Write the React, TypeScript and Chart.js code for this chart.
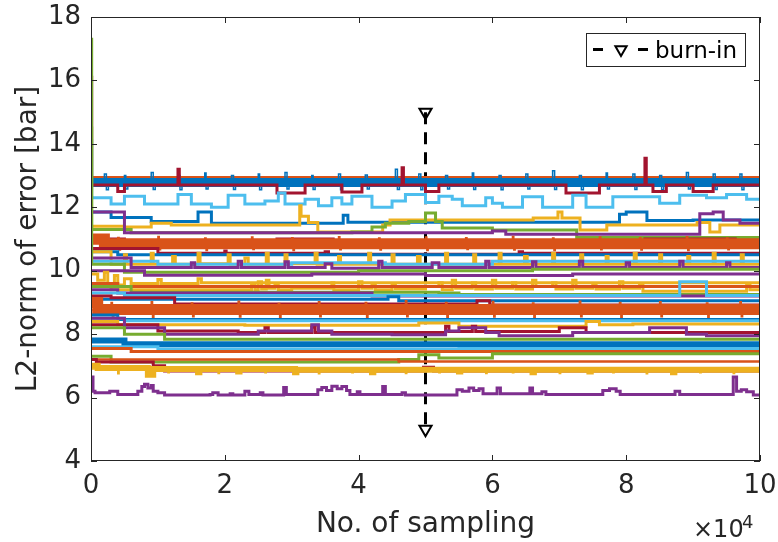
import { useEffect, useRef } from 'react';
import { Chart, registerables } from 'chart.js';
Chart.register(...registerables);

// MATLAB default colour order
const B = '#0072BD', O = '#D95319', Y = '#EDB120', P = '#7E2F8E', G = '#77AC30', C = '#4DBEEE', R = '#A2142F';

// x in units of 10^4 samples, y = L2-norm of error [bar]; pairs [x, y, x, y, ...] (value changes at x)
const p61 = [0,6.65, 0.03,6.2, 0.06,6.15, 0.28,6.2, 0.4,6.1, 0.7,6.2, 0.76,6.35, 0.8,6.42, 0.85,6.3, 0.9,6.38, 0.93,6.2, 1.0,6.15, 1.1,6.08, 1.78,6.1, 1.82,6.15, 1.9,6.08, 2.08,6.12, 2.12,6.08, 2.3,6.2, 2.36,6.1, 2.53,6.15, 2.57,6.08, 2.88,6.32, 2.92,6.1, 3.39,6.25, 3.45,6.32, 3.52,6.22, 3.6,6.36, 3.68,6.28, 3.75,6.35, 3.82,6.22, 3.87,6.1, 3.98,6.18, 4.02,6.1, 4.36,6.35, 4.4,6.1, 4.65,6.15, 4.7,6.08, 5.41,6.08, 5.47,6.25, 5.55,6.2, 5.65,6.3, 5.72,6.22, 5.8,6.28, 5.86,6.12, 6.07,6.3, 6.12,6.12, 6.56,6.3, 6.6,6.12, 6.74,6.18, 6.8,6.1, 7.65,6.22, 7.75,6.28, 7.85,6.2, 7.91,6.1, 8.73,6.2, 8.8,6.1, 9.6,6.65, 9.65,6.2, 9.72,6.25, 9.8,6.18, 9.9,6.08, 10,6.08];
const y69 = [0,7.0, 0.1,6.93, 0.85,6.72, 0.93,6.9, 1.6,6.8, 1.62,6.9, 2.2,6.82, 2.22,6.9, 3.05,6.8, 3.07,6.88, 4.2,6.8, 4.22,6.88, 5.5,6.82, 5.52,6.88, 6.6,6.8, 6.62,6.88, 7.45,6.82, 7.47,6.88, 8.7,6.8, 8.72,6.88, 10,6.88];
const y69s = [0,6.9, 0.4,6.75, 0.42,6.9, 1.15,6.78, 1.17,6.9, 1.9,6.76, 1.92,6.9, 2.6,6.78, 2.62,6.9, 3.4,6.75, 3.42,6.9, 3.9,6.78, 3.92,6.9, 4.7,6.76, 4.72,6.9, 5.2,6.78, 5.22,6.9, 5.9,6.76, 5.92,6.9, 6.3,6.78, 6.32,6.9, 7.0,6.76, 7.02,6.9, 7.8,6.78, 7.82,6.9, 8.3,6.75, 8.32,6.9, 9.1,6.78, 9.12,6.9, 9.6,6.76, 9.62,6.9, 10,6.9];
const r68 = [0,7.2, 0.08,7.12, 0.93,7.0, 1.1,6.84, 4.97,6.96, 5.12,6.84, 10,6.84];
const o714 = [0,7.2, 4.6,7.14, 10,7.14];
const g72 = [0,7.3, 0.3,7.12, 4.6,7.2, 4.9,7.35, 5.2,7.25, 6.0,7.38, 10,7.38];
const o745 = [0,7.55, 0.6,7.45, 10,7.45];
const c753 = [0,7.6, 1.0,7.53, 5.5,7.55, 10,7.55];
const b766 = [0,7.8, 0.5,7.68, 10,7.66];
const g78 = [0,8.2, 0.5,8.0, 1.1,7.84, 10,7.84];
const p795 = [0,8.5, 0.5,8.2, 1.1,8.0, 2.3,8.0, 2.5,8.1, 3.3,8.3, 3.4,8.1, 3.6,8.0, 4.5,7.98, 5.3,8.1, 5.5,8.2, 5.9,8.05, 6.1,7.95, 7.2,8.05, 8.35,8.2, 8.9,8.0, 9.2,7.95, 10,7.95];
const r81 = [0,8.3, 1.0,8.1, 2.2,8.05, 2.6,8.2, 2.65,8.05, 3.3,8.22, 3.35,8.05, 5.2,8.05, 5.3,8.25, 5.35,8.08, 5.7,8.25, 5.75,8.08, 7.0,8.2, 7.4,8.05, 10,8.0];
const y83 = [0,8.4, 0.4,8.3, 2.3,8.28, 4.9,8.35, 5.5,8.25, 7.4,8.4, 7.6,8.3, 8.1,8.32, 10,8.3];
const c84 = [0,8.5, 0.5,8.42, 10,8.4];
const b845 = [0,8.6, 0.4,8.46, 10,8.45];
const o876 = [0,9.0, 0.1,8.78, 10,8.76];
const o876s = [0,8.76, 0.3,9.0, 0.32,8.55, 0.34,8.76, 0.9,9.02, 0.92,8.52, 0.94,8.76, 1.5,8.98, 1.52,8.55, 1.54,8.76, 2.2,9.04, 2.22,8.54, 2.24,8.76, 2.8,8.97, 2.82,8.5, 2.84,8.76, 3.4,9.02, 3.42,8.55, 3.44,8.76, 4.1,9.0, 4.12,8.52, 4.14,8.76, 4.7,9.05, 4.72,8.55, 4.74,8.76, 5.3,9.0, 5.32,8.52, 5.34,8.76, 6.0,9.03, 6.02,8.54, 6.04,8.76, 6.6,8.98, 6.62,8.5, 6.64,8.76, 7.3,9.04, 7.32,8.55, 7.34,8.76, 7.9,9.0, 7.92,8.52, 7.94,8.76, 8.5,9.02, 8.52,8.55, 8.54,8.76, 9.2,8.98, 9.22,8.52, 9.24,8.76, 9.7,9.02, 9.72,8.55, 9.74,8.76, 10,8.76];
const r90 = [0,9.2, 0.3,9.15, 1.25,8.95, 5.77,9.05, 5.96,8.92, 10,8.9];
const b91 = [0,9.1, 4.44,9.18, 4.6,9.05, 10,9.05];
const c92 = [0,9.3, 0.5,9.22, 8.8,9.65, 9.2,9.22, 10,9.22];
const p93 = [0,9.4, 0.4,9.3, 4.2,9.2, 10,9.2];
const g93 = [0,9.5, 0.6,9.32, 5.2,9.3, 5.5,9.25, 10,9.2];
const o95 = [0,9.6, 0.4,9.5, 10,9.5];
const y94 = [0,9.6, 0.3,9.4, 2.4,9.6, 2.45,9.4, 2.5,9.65, 2.55,9.42, 2.62,9.7, 2.66,9.45, 2.75,9.55, 2.8,9.4, 3.0,9.45, 3.6,9.62, 3.63,9.4, 4.0,9.65, 4.05,9.45, 4.2,9.6, 4.25,9.4, 4.5,9.55, 4.55,9.42, 5.0,9.5, 5.2,9.62, 5.25,9.4, 5.4,9.7, 5.45,9.45, 5.7,9.62, 5.75,9.42, 6.0,9.7, 6.05,9.45, 6.3,9.62, 6.35,9.42, 6.6,9.7, 6.65,9.5, 6.9,9.62, 6.95,9.42, 7.2,9.7, 7.25,9.45, 7.5,9.6, 7.55,9.42, 7.9,9.65, 7.95,9.45, 8.2,9.55, 8.25,9.35, 9.8,9.55, 9.85,9.4, 10,9.4];
const y97 = [0,9.9, 0.1,9.7, 0.2,9.95, 0.25,9.6, 0.35,9.85, 0.4,9.55, 0.5,9.75, 0.6,9.6, 1.0,9.72, 1.05,9.6, 1.6,9.75, 1.65,9.62, 2.3,9.62, 10,9.62];
const p985 = [0,10.0, 0.8,9.86, 3.3,9.9, 5.0,9.85, 7.2,9.9, 10,9.9];
const g995 = [0,14.5, 0.01,10.2, 0.5,9.95, 4.0,10.0, 6.6,10.05, 10,10.05];
const p101 = [0,10.4, 0.6,10.1, 1.5,10.25, 1.55,10.1, 2.2,10.3, 2.25,10.1, 2.9,10.28, 2.95,10.1, 3.5,10.22, 3.6,10.08, 4.3,10.3, 4.35,10.1, 5.1,10.25, 5.2,10.1, 5.9,10.3, 5.95,10.1, 6.6,10.28, 6.65,10.1, 7.3,10.3, 7.35,10.1, 8.0,10.25, 8.05,10.1, 8.8,10.3, 8.85,10.1, 9.5,10.25, 9.55,10.1, 10,10.1];
const c102 = [0,10.3, 1.0,10.2, 3.0,10.25, 4.4,10.2, 6.0,10.3, 10,10.3];
const y102 = [0,10.6, 0.3,10.2, 0.5,10.5, 0.53,10.2, 0.9,10.55, 0.93,10.2, 1.22,10.45, 1.26,10.2, 1.6,10.55, 1.63,10.22, 2.05,10.5, 2.08,10.2, 2.3,10.4, 2.35,10.2, 2.62,10.55, 2.65,10.2, 2.9,10.5, 2.93,10.22, 3.35,10.55, 3.38,10.2, 3.7,10.45, 3.73,10.2, 4.15,10.55, 4.18,10.2, 4.5,10.5, 4.53,10.2, 4.88,10.45, 4.92,10.2, 5.3,10.55, 5.33,10.2, 5.72,10.5, 5.75,10.2, 6.1,10.55, 6.13,10.2, 6.48,10.45, 6.52,10.2, 6.9,10.55, 6.93,10.2, 7.32,10.5, 7.35,10.2, 7.7,10.45, 7.73,10.2, 8.12,10.55, 8.15,10.2, 8.5,10.5, 8.53,10.2, 8.92,10.45, 8.95,10.2, 9.3,10.55, 9.33,10.2, 9.72,10.5, 9.75,10.2, 10,10.2];
const b105 = [0,10.6, 0.4,10.5, 10,10.5];
const r106 = [0,10.7, 1.0,10.55, 2.0,10.62, 2.02,10.55, 3.5,10.6, 3.55,10.52, 6.4,10.6, 6.45,10.55, 10,10.55];
const o1085 = [0,11.0, 0.2,10.85, 10,10.85];
const o1085s = [0,10.85, 0.4,11.05, 0.42,10.65, 0.44,10.85, 1.0,11.08, 1.02,10.66, 1.04,10.85, 1.7,11.03, 1.72,10.64, 1.74,10.85, 2.4,11.06, 2.42,10.67, 2.44,10.85, 3.0,11.04, 3.02,10.64, 3.04,10.85, 3.7,11.07, 3.72,10.66, 3.74,10.85, 4.3,11.03, 4.32,10.65, 4.34,10.85, 5.0,11.06, 5.02,10.64, 5.04,10.85, 5.6,11.04, 5.62,10.67, 5.64,10.85, 6.3,11.08, 6.32,10.65, 6.34,10.85, 6.9,11.03, 6.92,10.64, 6.94,10.85, 7.6,11.06, 7.62,10.66, 7.64,10.85, 8.2,11.04, 8.22,10.65, 8.24,10.85, 8.9,11.07, 8.92,10.64, 8.94,10.85, 9.5,11.03, 9.52,10.66, 9.54,10.85, 10,10.85];
const r109 = [0,11.0, 0.5,10.85, 2.78,11.0, 3.62,10.85, 8.28,11.0, 9.63,10.85, 10,10.85];
const p112 = [0,11.85, 0.5,11.2, 6.0,11.25, 6.2,11.15, 9.1,11.8, 9.3,11.85, 9.45,11.6, 9.7,11.5, 10,11.5];
const g112 = [0,17.3, 0.01,11.3, 0.6,11.2, 3.9,11.22, 4.2,11.38, 4.4,11.5, 4.75,11.55, 5.0,11.82, 5.15,11.55, 5.25,11.35, 6.0,11.28, 7.26,11.05, 10,11.05];
const y115 = [0,11.4, 0.5,11.38, 0.9,11.5, 1.2,11.44, 3.12,12.05, 3.14,11.72, 3.25,11.52, 3.39,11.22, 4.36,11.44, 4.47,11.6, 6.61,11.66, 6.98,11.85, 7.04,11.66, 7.31,11.28, 7.71,11.44, 9.06,11.52, 9.25,11.22, 9.4,11.44, 10,11.4];
const b115 = [0,11.85, 0.3,11.68, 0.9,11.55, 1.6,11.85, 1.8,11.5, 3.77,11.75, 3.84,11.53, 7.9,11.78, 8.0,11.85, 8.31,11.58, 9.0,11.6, 10,11.6];
const c122 = [0,14.1, 0.01,12.3, 0.3,12.1, 0.5,12.35, 0.8,12.1, 1.3,12.4, 1.5,12.1, 1.8,12.0, 2.05,12.38, 2.3,12.1, 2.6,12.2, 2.8,12.45, 2.9,12.1, 3.2,12.25, 3.4,12.05, 3.6,12.3, 3.75,12.1, 3.9,12.35, 4.2,12.0, 4.5,12.2, 4.7,12.4, 5.0,12.15, 5.2,12.35, 5.4,12.25, 5.55,12.05, 5.9,12.3, 6.0,12.13, 6.15,12.0, 6.45,12.33, 6.75,12.0, 7.2,12.38, 7.4,12.0, 7.8,12.33, 8.5,12.13, 8.8,12.38, 9.2,12.3, 9.5,12.4, 9.8,12.25, 10,12.3];
const r126 = [0,16.1, 0.01,12.7, 0.4,12.5, 0.5,12.7, 1.3,13.2, 1.32,12.7, 2.78,12.45, 3.2,12.7, 3.75,12.48, 4.05,12.7, 4.65,13.25, 4.67,12.7, 5.0,12.5, 5.2,12.7, 7.1,12.45, 7.6,12.7, 8.28,13.55, 8.3,12.7, 8.4,12.5, 8.6,12.7, 9.0,12.5, 9.3,12.7, 10,12.7];
const b128 = [0,12.78, 10,12.78];
const b128s = [0,12.8, 0.2,13.05, 0.23,12.55, 0.26,12.8, 0.5,13.0, 0.52,12.58, 0.55,12.8, 0.9,13.1, 0.93,12.56, 0.96,12.8, 1.3,13.0, 1.33,12.55, 1.36,12.8, 1.7,13.08, 1.72,12.58, 1.75,12.8, 2.1,13.0, 2.13,12.56, 2.16,12.8, 2.5,13.05, 2.52,12.55, 2.55,12.8, 2.9,13.1, 2.93,12.58, 2.96,12.8, 3.3,13.0, 3.32,12.56, 3.35,12.8, 3.7,13.05, 3.73,12.55, 3.76,12.8, 4.1,13.02, 4.13,12.58, 4.16,12.8, 4.55,13.2, 4.58,12.56, 4.61,12.8, 4.9,13.05, 4.93,12.55, 4.96,12.8, 5.3,13.0, 5.33,12.58, 5.36,12.8, 5.7,13.08, 5.72,12.56, 5.75,12.8, 6.1,13.0, 6.13,12.55, 6.16,12.8, 6.5,13.05, 6.53,12.58, 6.56,12.8, 6.9,13.15, 6.93,12.56, 6.96,12.8, 7.3,13.0, 7.33,12.55, 7.36,12.8, 7.7,13.08, 7.72,12.58, 7.75,12.8, 8.1,13.05, 8.13,12.56, 8.16,12.8, 8.5,13.0, 8.53,12.55, 8.56,12.8, 8.9,13.1, 8.93,12.58, 8.96,12.8, 9.3,13.05, 9.33,12.56, 9.36,12.8, 9.7,13.05, 9.73,12.55, 9.76,12.8, 10,12.8];
const o129 = [0,15.1, 0.01,12.95, 10,12.95];

// burn-in marker line
const burnInX = [5, 5];
const burnInY = [15, 5];

const xTicks = [0, 2, 4, 6, 8, 10];
const yTicks = [4, 6, 8, 10, 12, 14, 16, 18];

const LW = 3;
const traces: [number[], string, number][] = [
  [p61, P, LW], [y69, Y, 6], [y69s, Y, 1.5], [r68, R, LW], [o714, O, 2.5], [g72, G, LW], [o745, O, LW], [c753, C, LW],
  [b766, B, 6], [g78, G, LW], [p795, P, LW], [r81, R, LW], [y83, Y, LW], [c84, C, LW], [b845, B, LW],
  [o876, O, 11], [o876s, O, 1.5], [r90, R, LW], [b91, B, LW], [c92, C, LW], [p93, P, LW], [g93, G, LW], [o95, O, LW],
  [y94, Y, LW], [y97, Y, LW], [p985, P, LW], [g995, G, LW], [p101, P, LW], [c102, C, LW], [y102, Y, LW], [b105, B, LW],
  [r106, R, LW], [o1085, O, 11], [o1085s, O, 1.5], [r109, R, LW], [p112, P, LW], [g112, G, LW], [y115, Y, LW], [b115, B, LW],
  [c122, C, LW], [r126, R, LW], [b128, B, 9], [b128s, B, 1.5], [o129, O, 2.5],
];

const FONT = 'DejaVu Sans';
const AX = '#262626';

function pairs(a: number[]) {
  const out: { x: number; y: number }[] = [];
  for (let i = 0; i < a.length; i += 2) out.push({ x: a[i], y: a[i + 1] });
  return out;
}

const decor = {
  id: 'decor',
  beforeDraw(chart: any) {
    const ctx = chart.ctx;
    ctx.save();
    ctx.fillStyle = '#fff';
    ctx.fillRect(0, 0, chart.width, chart.height);
    ctx.restore();
  },
  afterDraw(chart: any) {
    const ctx = chart.ctx;
    const { left, right, top, bottom } = chart.chartArea;
    const xs = chart.scales.x, ys = chart.scales.y;
    ctx.save();
    ctx.strokeStyle = AX;
    ctx.lineWidth = 1;
    ctx.strokeRect(left + 0.5, top + 0.5, right - left - 1, bottom - top - 1);
    ctx.beginPath();
    xTicks.forEach((v) => {
      const px = Math.round(xs.getPixelForValue(v)) + 0.5;
      ctx.moveTo(px, bottom); ctx.lineTo(px, bottom - 6);
      ctx.moveTo(px, top); ctx.lineTo(px, top + 6);
    });
    yTicks.forEach((v) => {
      const py = Math.round(ys.getPixelForValue(v)) + 0.5;
      ctx.moveTo(left, py); ctx.lineTo(left + 6, py);
      ctx.moveTo(right, py); ctx.lineTo(right - 6, py);
    });
    ctx.stroke();

    ctx.fillStyle = AX;
    ctx.textAlign = 'center';
    ctx.textBaseline = 'alphabetic';
    ctx.font = `28px "${FONT}"`;
    ctx.fillText('No. of sampling', (left + right) / 2, 532);
    ctx.save();
    ctx.translate(36, (top + bottom) / 2);
    ctx.rotate(-Math.PI / 2);
    ctx.fillText('L2-norm of error [bar]', 0, 0);
    ctx.restore();

    ctx.textAlign = 'left';
    ctx.font = `24px "${FONT}"`;
    ctx.fillText('\u00d710', 693, 537);
    ctx.font = `18px "${FONT}"`;
    ctx.fillText('4', 742, 528);

    const lx = 586, ly = 33, lw = 159, lh = 33;
    ctx.fillStyle = '#fff';
    ctx.fillRect(lx, ly, lw, lh);
    ctx.strokeStyle = AX;
    ctx.lineWidth = 1;
    ctx.strokeRect(lx + 0.5, ly + 0.5, lw, lh);
    const cy = 49.5;
    ctx.strokeStyle = '#000';
    ctx.lineWidth = 3;
    ctx.beginPath();
    ctx.moveTo(593, cy); ctx.lineTo(603, cy);
    ctx.moveTo(638, cy); ctx.lineTo(648, cy);
    ctx.stroke();
    ctx.lineWidth = 2;
    const r = 6.5, tx = 621;
    ctx.beginPath();
    ctx.moveTo(tx, cy + r);
    ctx.lineTo(tx - r * 0.866, cy - r / 2);
    ctx.lineTo(tx + r * 0.866, cy - r / 2);
    ctx.closePath();
    ctx.stroke();
    ctx.fillStyle = '#000';
    ctx.font = `23px "${FONT}"`;
    ctx.fillText('burn-in', 655, 58);
    ctx.restore();
  },
};

export default function App() {
  const ref = useRef<HTMLCanvasElement | null>(null);
  useEffect(() => {
    if (!ref.current) return;
    const datasets: any[] = traces.map(([d, color, w]) => ({
      data: pairs(d),
      borderColor: color,
      backgroundColor: color,
      borderWidth: w,
      pointRadius: 0,
      stepped: true,
      fill: false,
      borderCapStyle: 'butt',
      borderJoinStyle: 'miter',
    }));
    datasets.push({
      data: burnInX.map((x, i) => ({ x, y: burnInY[i] })),
      borderColor: '#000',
      borderWidth: 3,
      borderDash: [12, 8],
      pointStyle: 'triangle',
      pointRotation: 180,
      pointRadius: 7,
      pointBackgroundColor: 'rgba(0,0,0,0)',
      pointBorderColor: '#000',
      pointBorderWidth: 2,
      fill: false,
    });
    const chart = new Chart(ref.current, {
      type: 'line',
      data: { datasets },
      options: {
        animation: false,
        responsive: false,
        devicePixelRatio: 1,
        layout: { padding: { left: 0, right: 18, top: 17, bottom: 0 } },
        plugins: { legend: { display: false }, tooltip: { enabled: false } },
        scales: {
          x: {
            type: 'linear', min: 0, max: 10,
            afterBuildTicks: (s: any) => { s.ticks = xTicks.map((v) => ({ value: v })); },
            afterFit: (s: any) => { s.height = 81; s.paddingLeft = 0; s.paddingRight = 0; },
            grid: { display: false, drawTicks: false },
            border: { display: false },
            ticks: { color: AX, font: { family: FONT, size: 26 }, padding: 10, maxRotation: 0 },
          },
          y: {
            type: 'linear', min: 4, max: 18,
            afterBuildTicks: (s: any) => { s.ticks = yTicks.map((v) => ({ value: v })); },
            afterFit: (s: any) => { s.width = 91; s.paddingTop = 0; s.paddingBottom = 0; },
            grid: { display: false, drawTicks: false },
            border: { display: false },
            ticks: { color: AX, font: { family: FONT, size: 26 }, padding: 10 },
          },
        },
      } as any,
      plugins: [decor],
    });
    return () => chart.destroy();
  }, []);
  return (
    <div style={{ position: 'absolute', left: 0, top: 0, width: 778, height: 542 }}>
      <canvas ref={ref} width={778} height={542} style={{ width: 778, height: 542 }} />
    </div>
  );
}
